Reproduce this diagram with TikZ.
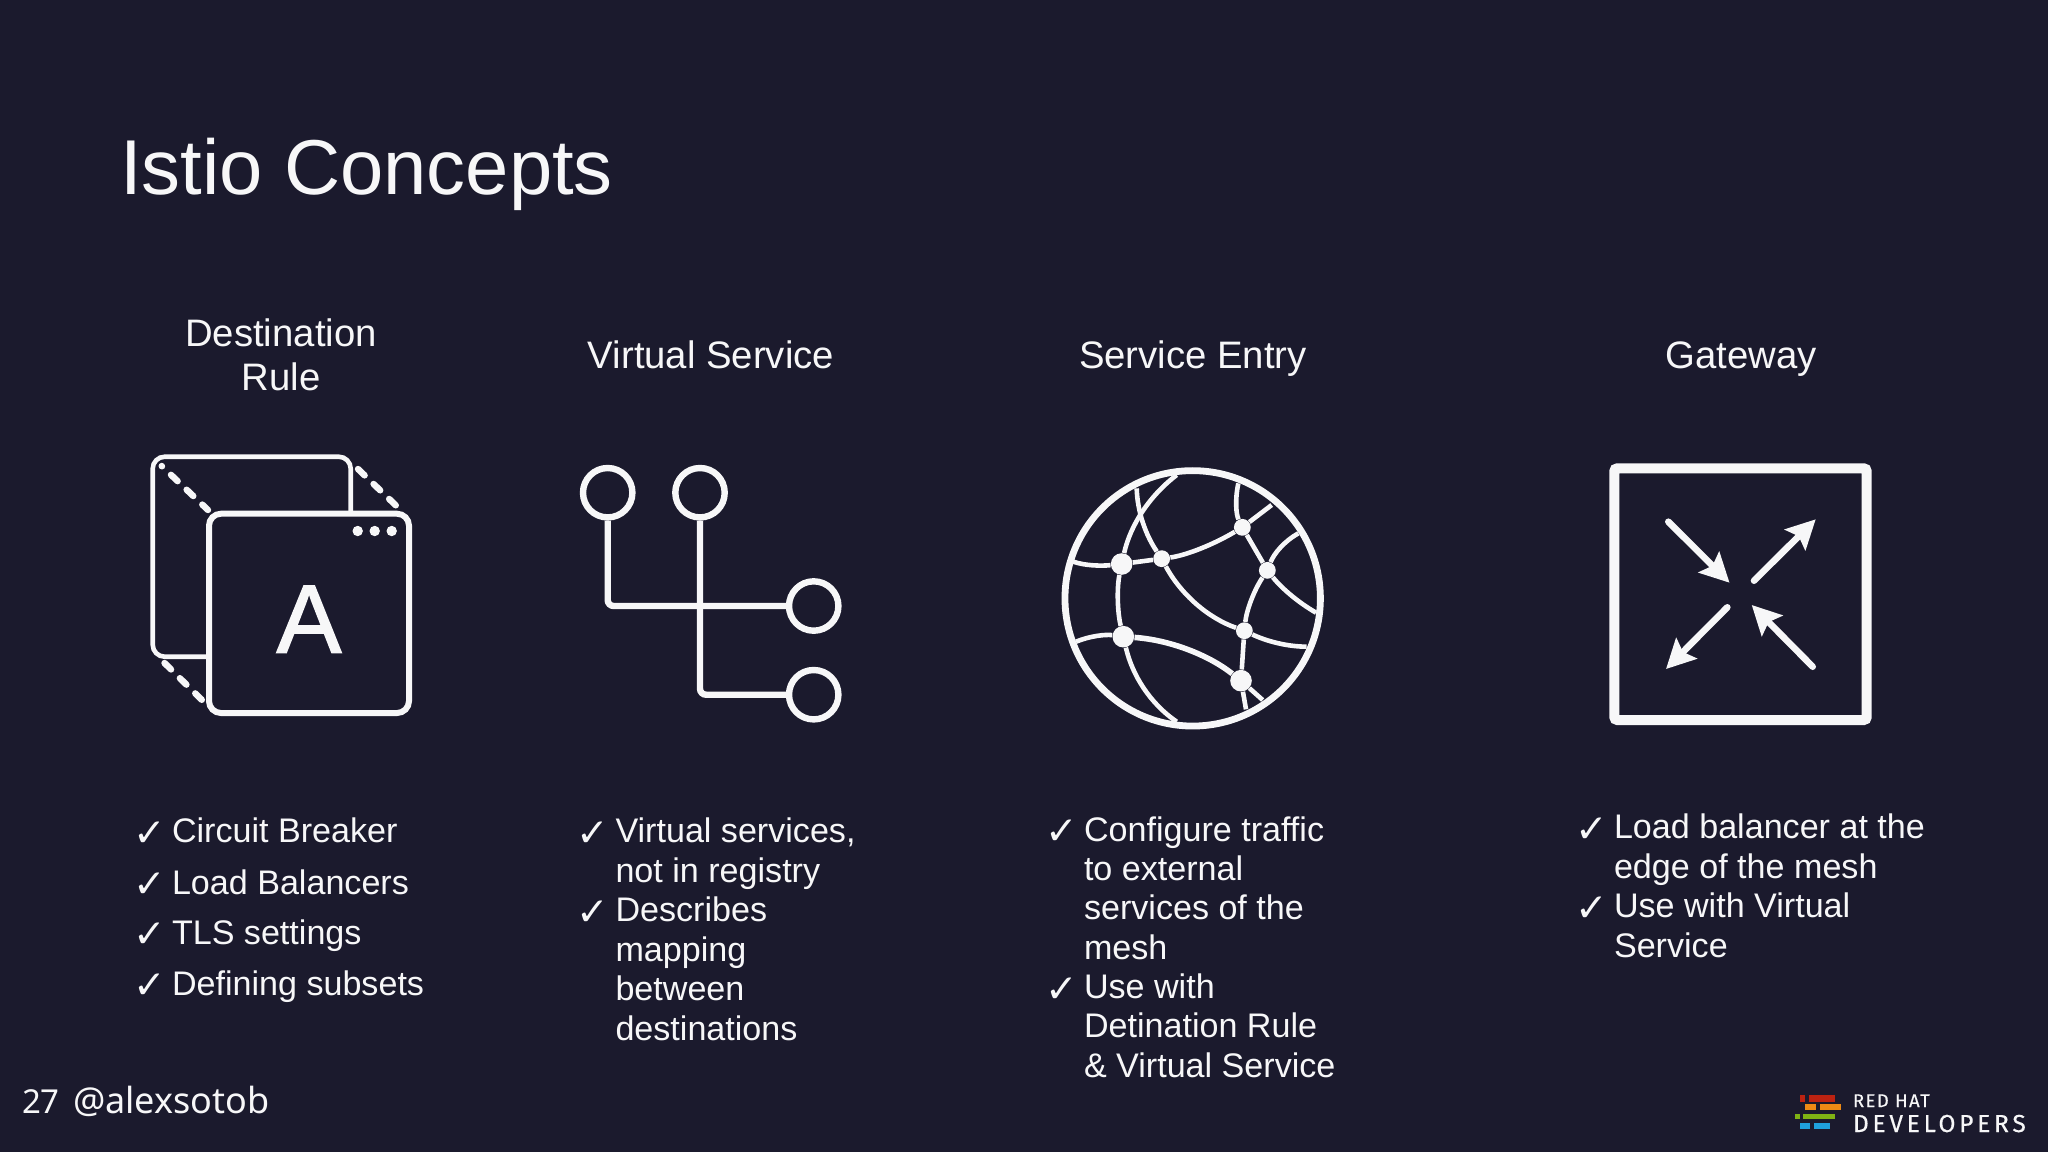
\documentclass[tikz,border=0pt]{standalone}
\usepackage{fontspec}
\setmainfont{Liberation Sans}
\newfontfamily\checkfont{DejaVu Sans}
\newfontfamily\footfont{Noto Sans}
\newfontfamily\logofontA[LetterSpace=8,FakeBold=0.3]{Fira Sans}
\newfontfamily\logofontB[LetterSpace=15,FakeBold=0.4]{Fira Sans}
\newfontfamily\heavyfont[FakeBold=1.6]{Liberation Sans}
\usetikzlibrary{arrows.meta,calc}
\definecolor{bgc}{HTML}{1B1A2D}
\definecolor{ink}{HTML}{F7F7F8}
\definecolor{lred}{HTML}{BC2211}
\definecolor{lorange}{HTML}{EE8A14}
\definecolor{lgreen}{HTML}{7FB214}
\definecolor{lblue}{HTML}{1FA0DC}
\tikzset{
  txt/.style={text=ink,inner sep=0pt,outer sep=0pt},
  titletxt/.style={txt,anchor=base west,font=\fontsize{38.9pt}{46pt}\selectfont},
  headtxt/.style={txt,anchor=base,align=center,font=\fontsize{19.15pt}{22pt}\selectfont},
  bodytxt/.style={txt,anchor=base west,align=left,font=\fontsize{17.05pt}{19.7pt}\selectfont},
  tick/.style={txt,anchor=base west,font=\checkfont\fontsize{19.5pt}{22pt}\selectfont},
  dashln/.style={draw=ink,line width=3.2pt,line cap=round,dash pattern=on 4.6pt off 6.2pt},
  dot/.style={circle,fill=ink,inner sep=0pt,minimum size=5.2pt},
  ring/.style={circle,draw=ink,line width=3.2pt,inner sep=0pt,minimum size=24.7pt},
  wire/.style={draw=ink,line width=3.2pt,rounded corners=3pt},
  netln/.style={draw=ink,line width=2.3pt},
  curved/.style={to path={.. controls ($(\tikztostart)!.667!#1$) and ($(\tikztotarget)!.667!#1$) .. (\tikztotarget)}},
  bignode/.style={circle,fill=ink,inner sep=0pt,minimum size=10.8pt},
  smallnode/.style={circle,fill=ink,inner sep=0pt,minimum size=8.4pt},
  gateline/.style={draw=ink,line width=3.3pt,line cap=round,-{Stealth[length=14.5pt,width=14.5pt,inset=2.5pt]}},
}
\begin{document}
\begin{tikzpicture}[x=0.5pt,y=-0.5pt]
\fill[bgc] (0,0) rectangle (2048,1152);
\useasboundingbox (0,0) rectangle (2048,1152);

\node[titletxt] (title) at (120,194) {Istio Concepts};
\node[headtxt] (h1) at (281,390) {Destination\\Rule};
\node[headtxt] (h2) at (711,368) {Virtual Service};
\node[headtxt] (h3) at (1193,368) {Service Entry};
\node[headtxt] (h4) at (1741,368) {Gateway};

% Destination Rule icon
\coordinate (bnw) at (152.7,456.7);
\coordinate (bse) at (350.7,656.7);
\coordinate (fnw) at (209,513.7);
\coordinate (fse) at (409,713);
\draw[dashln] (358,469) -- (396.5,506);
\draw[dashln] (164.5,663) -- (202,700);
\draw[draw=ink,line width=2.3pt,rounded corners=6pt] (bnw) rectangle (bse);
\draw[dashln,dash phase=4.4pt] (161.7,466) -- (208,510);
\draw[draw=ink,fill=bgc,line width=3pt,rounded corners=6pt] (fnw) rectangle (fse);
\node[dot] (d1) at (357.7,531) {};
\node[dot] (d2) at (374.7,531) {};
\node[dot] (d3) at (391.7,531) {};
\node[txt,anchor=base,font=\heavyfont\fontsize{48.5pt}{50pt}\selectfont] (bigA) at (309,652.5) {A};

% Virtual Service icon
\node[ring] (c1) at (607.7,492.7) {};
\node[ring] (c2) at (700,492.7) {};
\node[ring] (c3) at (813.7,606) {};
\node[ring] (c4) at (813.7,694.7) {};
\draw[wire] (c1.south) |- (c3.west);
\draw[wire] (c2.south) |- (c4.west);

% Service Entry icon
\begin{scope}[shift={(1040,450)},x=0.16667pt,y=-0.16667pt]
\node[circle,draw=ink,line width=3.4pt,inner sep=0pt,minimum size=127.7pt] (globe) at (458,445) {};
\coordinate (e1) at (100,335);
\coordinate (e2) at (695,165);
\coordinate (e3) at (595,100);
\coordinate (e4) at (290,115);
\coordinate (e5) at (410,75);
\coordinate (e6) at (775,250);
\coordinate (e7) at (828,488);
\coordinate (e8) at (800,590);
\coordinate (e9) at (108,575);
\coordinate (e10) at (410,815);
\coordinate (e11) at (618,778);
\coordinate (e12) at (668,750);
\node[bignode] (n1) at (245,342) {};
\node[smallnode] (n2) at (365,326) {};
\node[smallnode] (n3) at (607,232) {};
\node[smallnode] (n4) at (682,361) {};
\node[smallnode] (n5) at (613,542) {};
\node[bignode] (n6) at (250,560) {};
\node[bignode] (n7) at (603,692) {};
\draw[netln] (e1) to[curved={(148,352)}] (n1);
\draw[netln] (n1) -- (n2);
\draw[netln] (n2) to[curved={(474,311)}] (n3);
\draw[netln] (n3) -- (e2);
\draw[netln] (n3) to[curved={(579,174)}] (e3);
\draw[netln] (e4) to[curved={(293,220)}] (n2);
\draw[netln] (e5) to[curved={(283,172)}] (n1);
\draw[netln] (n1) to[curved={(223,449)}] (n6);
\draw[netln] (n2) to[curved={(451,486)}] (n5);
\draw[netln] (n3) -- (n4);
\draw[netln] (n4) to[curved={(712,285)}] (e6);
\draw[netln] (n4) to[curved={(745,440)}] (e7);
\draw[netln] (n4) to[curved={(623,449)}] (n5);
\draw[netln] (n5) to[curved={(714,590)}] (e8);
\draw[netln] (n5) -- (n7);
\draw[netln] (e9) to[curved={(171,549)}] (n6);
\draw[netln,line width=2.8pt] (n6) to[curved={(454,574)}] (n7);
\draw[netln] (n6) to[curved={(290,733)}] (e10);
\draw[netln] (n7) -- (e11);
\draw[netln] (n7) -- (e12);
\end{scope}

% Gateway icon
\draw[draw=ink,line width=5pt,rounded corners=1.5pt] (1614.3,468.3) rectangle (1866.7,720);
\coordinate (g1a) at (1668.3,521.7);
\coordinate (g1b) at (1729.5,582.7);
\coordinate (g2a) at (1754,580.7);
\coordinate (g2b) at (1815.7,519.3);
\coordinate (g3a) at (1727.3,607.3);
\coordinate (g3b) at (1666,669);
\coordinate (g4a) at (1812.7,666.7);
\coordinate (g4b) at (1751.7,605);
\draw[gateline] (g1a) -- (g1b);
\draw[gateline] (g2a) -- (g2b);
\draw[gateline] (g3a) -- (g3b);
\draw[gateline] (g4a) -- (g4b);

% Lists
\node[bodytxt] (l11) at (172,842.7) {Circuit Breaker};
\node[bodytxt] (l12) at (172,894) {Load Balancers};
\node[bodytxt] (l13) at (172,944) {TLS settings};
\node[bodytxt] (l14) at (172,995) {Defining subsets};
\node[tick] (k11) at (133,846) {✓};
\node[tick] (k12) at (133,897) {✓};
\node[tick] (k13) at (133,947) {✓};
\node[tick] (k14) at (133,998) {✓};

\node[bodytxt] (l21) at (615.5,882.3) {Virtual services,\\not in registry};
\node[bodytxt] (l22) at (615.5,1040) {Describes\\mapping\\between\\destinations};
\node[tick] (k21) at (576,846) {✓};
\node[tick] (k22) at (576,925) {✓};

\node[bodytxt] (l31) at (1084,959.2) {Configure traffic\\to external\\services of the\\mesh};
\node[bodytxt] (l32) at (1084,1077) {Use with\\Detination Rule\\\& Virtual Service};
\node[tick] (k31) at (1045,844.5) {✓};
\node[tick] (k32) at (1045,1002) {✓};

\node[bodytxt] (l41) at (1614,878) {Load balancer at the\\edge of the mesh};
\node[bodytxt] (l42) at (1614,957) {Use with Virtual\\Service};
\node[tick] (k41) at (1575,842) {✓};
\node[tick] (k42) at (1575,921) {✓};

% Footer
\node[txt,anchor=base west,font=\footfont\fontsize{16.5pt}{18pt}\selectfont] (num) at (22,1113) {27};
\node[txt,anchor=base west,font=\footfont\fontsize{18pt}{20pt}\selectfont] (handle) at (73,1113) {@alexsotob};

% Logo
\fill[lred] (1800,1095) rectangle (1805,1101.7);
\fill[lred] (1809.3,1095) rectangle (1835,1101.7);
\fill[lorange] (1805.3,1104.3) rectangle (1816,1110);
\fill[lorange] (1820,1104.3) rectangle (1840.7,1110);
\fill[lgreen] (1795,1113.7) rectangle (1800,1119.3);
\fill[lgreen] (1803.3,1113.7) rectangle (1835.3,1119.3);
\fill[lblue] (1800,1123) rectangle (1810,1129);
\fill[lblue] (1814,1123) rectangle (1830,1129);
\node[txt,anchor=base west,font=\logofontA\fontsize{9.2pt}{10pt}\selectfont] (rh) at (1853,1107) {RED HAT};
\node[txt,anchor=base west,font=\logofontB\fontsize{12.3pt}{14pt}\selectfont] (dev) at (1853,1132) {DEVELOPERS};
\end{tikzpicture}
\end{document}
